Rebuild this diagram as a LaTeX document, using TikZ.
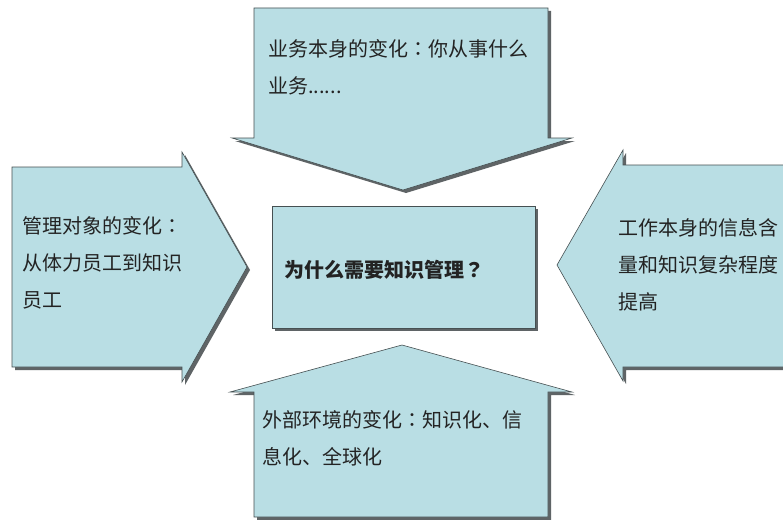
\documentclass[tikz,border=0pt]{standalone}
\usepackage{fontspec}
\setmainfont{Noto Sans CJK SC}
\newfontfamily\tcpunct{Noto Sans CJK TC}
\newcommand{\mycolon}{{\tcpunct ：}}
\usetikzlibrary{shadows}
\definecolor{blkfill}{RGB}{185,222,228}
\definecolor{blkline}{RGB}{70,80,82}
\definecolor{shadowgray}{RGB}{95,100,102}
\definecolor{txtgray}{RGB}{35,35,35}

\begin{document}
\begin{tikzpicture}
	[x=1pt, y=-1pt,
	 blk/.style={draw=blkline, line width=0.6pt, fill=blkfill,
	   drop shadow={shadow xshift=3pt, shadow yshift=-3pt, fill=shadowgray, opacity=1}},
	 txt/.style={anchor=west, align=left, inner sep=0pt, text=txtgray,
	   font=\fontsize{20pt}{37pt}\selectfont}]
   \clip (0,0) rectangle (783,519);
   \fill[white] (0,0) rectangle (783,519);
   \draw[blk] (254,8) -- (548,8) -- (548,138) -- (572,138) -- (403,190)
              -- (232,138) -- (254,138) -- cycle;
   \draw[blk] (12,167) -- (182,167) -- (182,152) -- (247,267)
              -- (182,382) -- (182,367) -- (12,367) -- cycle;
   \draw[blk] (795,165) -- (623,165) -- (623,150) -- (557,265)
              -- (623,381) -- (623,367) -- (795,367) -- cycle;
   \draw[blk] (254,517) -- (254,392) -- (230,392) -- (402,345)
              -- (572,392) -- (548,392) -- (548,517) -- cycle;
   \draw[blk] (272,206) rectangle (535,328);
   \node[txt] (top)    at (268,67)  {业务本身的变化\mycolon 你从事什么\\业务......};
   \node[txt] (left)   at (22,263)  {管理对象的变化\mycolon\\从体力员工到知识\\员工};
   \node[txt] (right)  at (618,265) {工作本身的信息含\\量和知识复杂程度\\提高};
   \node[txt] (bottom) at (262,438) {外部环境的变化\mycolon 知识化、信\\息化、全球化};
   \node[txt, font=\fontsize{20pt}{37pt}\selectfont\bfseries] (why) at (284,270)
      {为什么需要知识管理{\tcpunct ？}};
\end{tikzpicture}
\end{document}
